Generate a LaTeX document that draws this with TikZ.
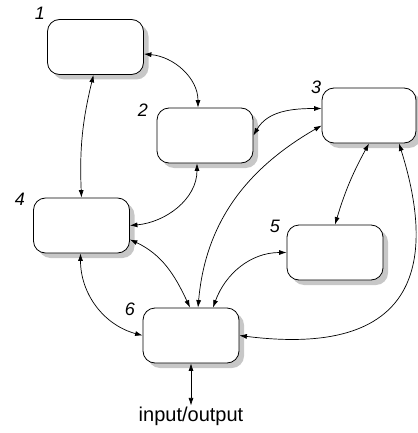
\documentclass[tikz,border=0pt]{standalone}
\usepackage{fontspec}
\setmainfont{Liberation Sans}
\usepackage{tikz}
\usetikzlibrary{arrows.meta}
\usetikzlibrary{shadows}

\begin{document}
\begin{tikzpicture}[x=1pt,y=1pt,
        box/.style={draw, line width=0.8pt, fill=white, rounded corners=12pt,
            minimum width=96pt, minimum height=55pt,
            drop shadow={shadow xshift=5pt, shadow yshift=-5pt, fill=black!22, opacity=1}},
        num/.style={font=\fontsize{18}{18}\selectfont\itshape, inner sep=0pt},
        link/.style={line width=0.7pt, {Latex[length=7.5pt,width=5pt]}-{Latex[length=7.5pt,width=5pt]}}]
        \useasboundingbox (0,0) rectangle (417,-433);
        \node[box] (n1) at (95.5,-47) {};
        \node[box] (n2) at (205,-135.5) {};
        \node[box, minimum width=94pt] (n3) at (369,-115.5) {};
        \node[box] (n4) at (81.5,-225.5) {};
        \node[box] (n5) at (335,-252.5) {};
        \node[box] (n6) at (191,-335.5) {};
        \node[num] (l1) at (40,-13) {1};
        \node[num] (l2) at (143,-110) {2};
        \node[num] (l3) at (316,-87) {3};
        \node[num] (l4) at (20,-199) {4};
        \node[num] (l5) at (275,-226) {5};
        \node[num] (l6) at (130,-309) {6};
        \node[font=\fontsize{20}{20}\selectfont, inner sep=1pt] (io) at (191,-416) {input/output};
        %
        \draw[link] ([yshift=-7pt]n1.east) to[out=-5, in=90] ([xshift=-7pt]n2.north);
        \draw[link] ([xshift=-2pt]n1.south) to[bend right=8] (n4.north);
        \draw[link] ([xshift=-8pt]n2.south) to[out=-90, in=5] (n4.east);
        \draw[link] (n2.east) to[out=60, in=180] ([yshift=7pt]n3.west);
        \draw[link] ([yshift=-10pt]n3.west) to[out=-150, in=85] ([xshift=7pt]n6.north);
        \draw[link] (n3.south) to[bend right=6] (n5.north);
        \draw[link] ([xshift=30pt]n3.south) .. controls +(33,-105) and +(191,-24) .. (n6.east);
        \draw[link] ([yshift=-14pt]n4.east) to[out=-25, in=115] ([xshift=-1pt]n6.north);
        \draw[link] (n5.west) to[out=180, in=70] ([xshift=22pt]n6.north);
        \draw[link] ([xshift=-1pt]n4.south) to[out=-90, in=165] (n6.west);
        \draw[link] (n6) -- (io);
\end{tikzpicture}
\end{document}
